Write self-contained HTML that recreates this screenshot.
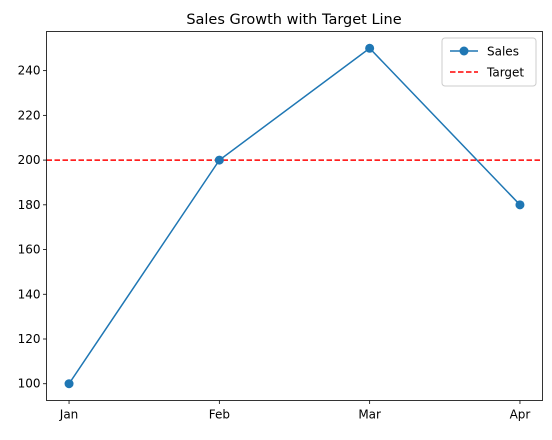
<!DOCTYPE html>
<html><head><meta charset="utf-8"><style>
body{margin:0;background:#fff;font-family:"Liberation Sans","DejaVu Sans",sans-serif}
</style></head><body>
<svg id="chart" width="552" height="435" viewBox="0 0 552 435" xmlns="http://www.w3.org/2000/svg" font-family="DejaVu Sans, Liberation Sans, sans-serif">
<text x="294" y="24" font-size="14.5" text-anchor="middle">Sales Growth with Target Line</text>
<g id="axes"></g>
<g id="legend">
<rect x="442" y="38" width="94" height="48" fill="#fff" stroke="#ccc" rx="3"/>
<g><line x1="450" y1="51" x2="478" y2="51" stroke="#1f77b4" stroke-width="1.5"/><circle cx="464" cy="51" r="4.5" fill="#1f77b4"/><text x="487" y="55.5" font-size="12">Sales</text></g>
<g><line x1="450" y1="72" x2="478" y2="72" stroke="red" stroke-width="1.5" stroke-dasharray="5.5,2.5"/><text x="487" y="76.5" font-size="12">Target</text></g>
</g>
</svg>
<script>
const categories=["Jan","Feb","Mar","Apr"];
const sales=[100,200,250,180];
const target=[200];
const yTicks=[100,120,140,160,180,200,220,240];
const L=46.5,R=542.5,T=31.5,B=400.5;
const yMin=92.5,yMax=257.5;
const x=i=>L+(R-L)*(i+0.15)/(categories.length-1+0.3);
const y=v=>B-(B-T)*(v-yMin)/(yMax-yMin);
const ns="http://www.w3.org/2000/svg";
const g=document.getElementById('axes');
function mk(t,a,p){const e=document.createElementNS(ns,t);for(const k in a)e.setAttribute(k,a[k]);(p||g).appendChild(e);return e;}
yTicks.forEach(v=>{
 const tk=mk('line',{x1:L-3.5,x2:L,y1:y(v),y2:y(v),stroke:'#000','stroke-width':0.8});
 
 
 const t=mk('text',{x:L-6,y:y(v)+4,'font-size':12,'text-anchor':'end'});t.textContent=v;
 
 
});
categories.forEach((c,i)=>{
 const tk=mk('line',{x1:x(i),x2:x(i),y1:B,y2:B+3.5,stroke:'#000','stroke-width':0.8});
 
 
 const t=mk('text',{x:x(i),y:B+18,'font-size':12,'text-anchor':'middle'});t.textContent=c;
 
 
});
const tl=mk('line',{x1:L,x2:R,y1:y(target[0]),y2:y(target[0]),stroke:'red','stroke-width':1.5,'stroke-dasharray':'5.5,2.5'});


const pl=mk('polyline',{points:sales.map((v,i)=>x(i)+','+y(v)).join(' '),fill:'none',stroke:'#1f77b4','stroke-width':1.5});


sales.forEach((v,i)=>{
 const c=mk('circle',{cx:x(i),cy:y(v),r:4.5,fill:'#1f77b4'});
 
 
});
const fr=mk('rect',{x:L,y:T,width:R-L,height:B-T,fill:'none',stroke:'#000','stroke-width':0.8});


</script>
</body></html>
